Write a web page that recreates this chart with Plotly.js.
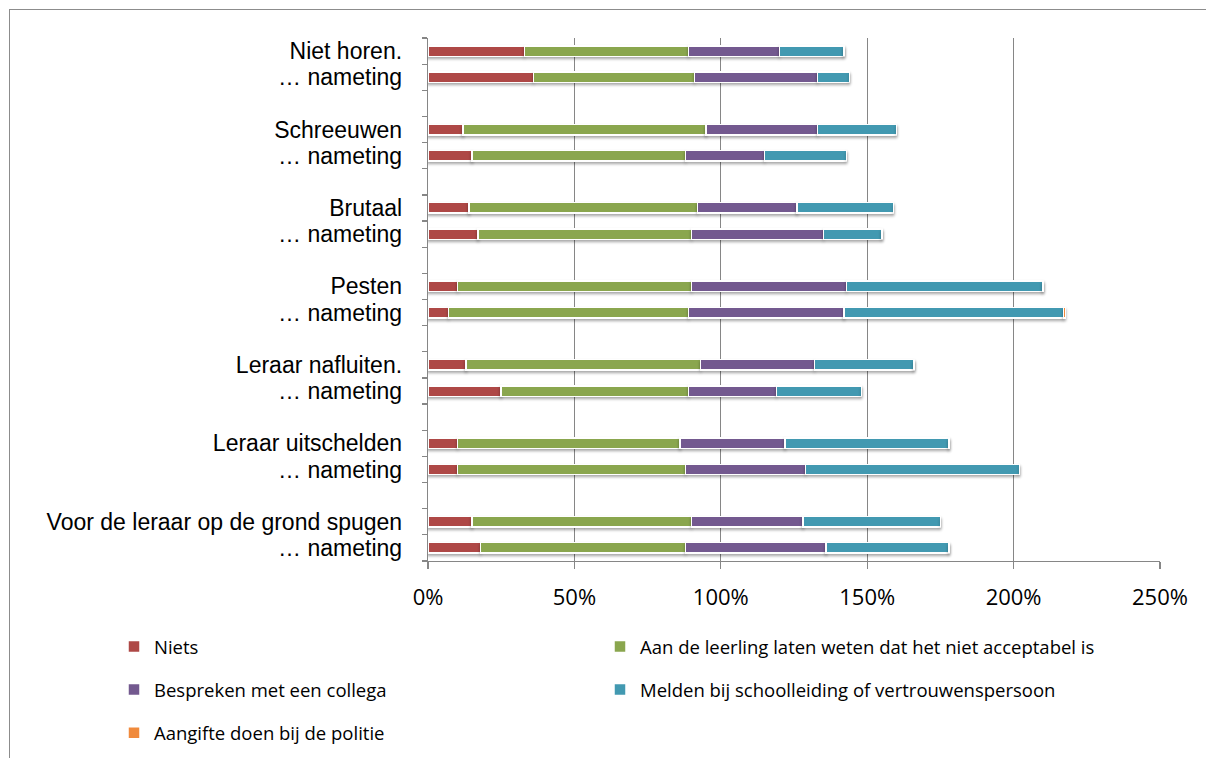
<!DOCTYPE html>
<html>
<head>
<meta charset="utf-8">
<script src="https://cdn.plot.ly/plotly-3.0.1.min.js"></script>
<style>
  html, body { margin: 0; padding: 0; background: #fff; overflow: hidden; }
  #chart { width: 1206px; height: 758px; position: absolute; left: 0; top: 0; }
  #frame { position: absolute; left: 9px; top: 9px; width: 1300px; height: 900px;
           border-left: 1.5px solid #8c8c8c; border-top: 1.5px solid #8c8c8c;
           pointer-events: none; z-index: 10; }
  #chart .barlayer .point path { filter: drop-shadow(0px 2px 1.5px rgba(0,0,0,0.35)); }
</style>
</head>
<body>
<div id="chart"></div>
<div id="frame"></div>
<script>
// ---- data (percent) ----
const categories = ["Niet horen.", "… nameting", "Schreeuwen", "… nameting", "Brutaal", "… nameting",
  "Pesten", "… nameting", "Leraar nafluiten.", "… nameting", "Leraar uitschelden", "… nameting",
  "Voor de leraar op de grond spugen", "… nameting"];
const seriesNames = ["Niets", "Aan de leerling laten weten dat het niet acceptabel is",
  "Bespreken met een collega", "Melden bij schoolleiding of vertrouwenspersoon", "Aangifte doen bij de politie"];
const niets     = [33, 36, 12, 15, 14, 17, 10, 7, 13, 25, 10, 10, 15, 18];
const aan       = [56, 55, 83, 73, 78, 73, 80, 82, 80, 64, 76, 78, 75, 70];
const bespreken = [31, 42, 38, 27, 34, 45, 53, 53, 39, 30, 36, 41, 38, 48];
const melden    = [22, 11, 27, 28, 33, 20, 67, 75, 34, 29, 56, 73, 47, 42];
const aangifte  = [0, 0, 0, 0, 0, 0, 0, 0.7, 0, 0, 0, 0, 0, 0];
const xTicks = [0, 50, 100, 150, 200, 250];

// ---- layout helpers ----
const colors = ["#AE4846", "#8AA64E", "#73598F", "#4299B1", "#F08A3C"];
const slot = categories.map((c, i) => Math.floor(i / 2) * 3 + (i % 2));
const nSlots = Math.floor((categories.length - 1) / 2) * 3 + 2;
const boundaries = [];
for (let k = 0; k <= nSlots; k++) boundaries.push(k - 0.5);

const values = [niets, aan, bespreken, melden, aangifte];
const legendOf = ["legend", "legend2", "legend", "legend2", "legend"];
const traces = values.map((v, s) => ({
  type: "bar", orientation: "h",
  x: v, y: slot,
  name: seriesNames[s],
  legend: legendOf[s],
  legendgroup: "g" + s,
  width: 0.4,
  marker: { color: colors[s], line: { color: "#ffffff", width: 1.5 } },
  hoverinfo: "x+name"
}));
// invisible trace on yaxis2 to carry the boundary ticks
traces.push({ type: "scatter", x: [0], y: [0], yaxis: "y2", mode: "markers",
  marker: { opacity: 0 }, showlegend: false, hoverinfo: "skip" });

const W = 1206, H = 758, L = 428, R = 46, T = 38, B = 197;
const pw = W - L - R;
const font = "'Open Sans', 'DejaVu Sans', sans-serif";
const labelFont = "'Liberation Sans', Arial, sans-serif";
const legendFont = { size: 18.5, family: font, color: "#000" };
const layout = {
  width: W, height: H,
  margin: { l: L, r: R, t: T, b: B, autoexpand: false },
  paper_bgcolor: "#ffffff", plot_bgcolor: "#ffffff",
  barmode: "stack",
  bargap: 0,
  font: { family: font, color: "#000" },
  xaxis: {
    range: [0, 250], tickvals: xTicks, ticktext: xTicks.map(t => t + "%"),
    showgrid: true, gridcolor: "#868686", gridwidth: 1.3,
    zeroline: false, showline: true, linecolor: "#868686", linewidth: 1.3,
    ticks: "outside", ticklen: 7, tickcolor: "#868686", tickwidth: 1.3,
    tickfont: { size: 22, family: font }, ticklabelstandoff: 9, tickangle: 0,
    automargin: false, fixedrange: true
  },
  yaxis: {
    range: [nSlots - 0.5, -0.5],
    tickvals: slot, ticktext: categories,
    ticks: "", showgrid: false, zeroline: false,
    showline: true, linecolor: "#868686", linewidth: 1.3,
    tickfont: { size: 23, family: labelFont }, ticklabelstandoff: 20,
    automargin: false, fixedrange: true
  },
  yaxis2: {
    overlaying: "y", side: "left",
    range: [nSlots - 0.5, -0.5],
    tickvals: boundaries, ticktext: boundaries.map(() => ""),
    ticks: "outside", ticklen: 5, tickcolor: "#868686", tickwidth: 1.3,
    showgrid: false, zeroline: false, showline: false, automargin: false, fixedrange: true
  },
  legend: {
    x: (114 - L) / pw, xanchor: "left",
    y: -(628 - (H - B)) / (H - T - B), yanchor: "top",
    orientation: "v", traceorder: "grouped", tracegroupgap: 16,
    font: legendFont, itemwidth: 30,
    bgcolor: "rgba(0,0,0,0)"
  },
  legend2: {
    x: (600 - L) / pw, xanchor: "left",
    y: -(628 - (H - B)) / (H - T - B), yanchor: "top",
    orientation: "v", traceorder: "grouped", tracegroupgap: 16,
    font: legendFont, itemwidth: 30,
    bgcolor: "rgba(0,0,0,0)"
  },
  showlegend: true
};

Plotly.newPlot("chart", traces, layout, { displayModeBar: false, staticPlot: true });
</script>
</body>
</html>
